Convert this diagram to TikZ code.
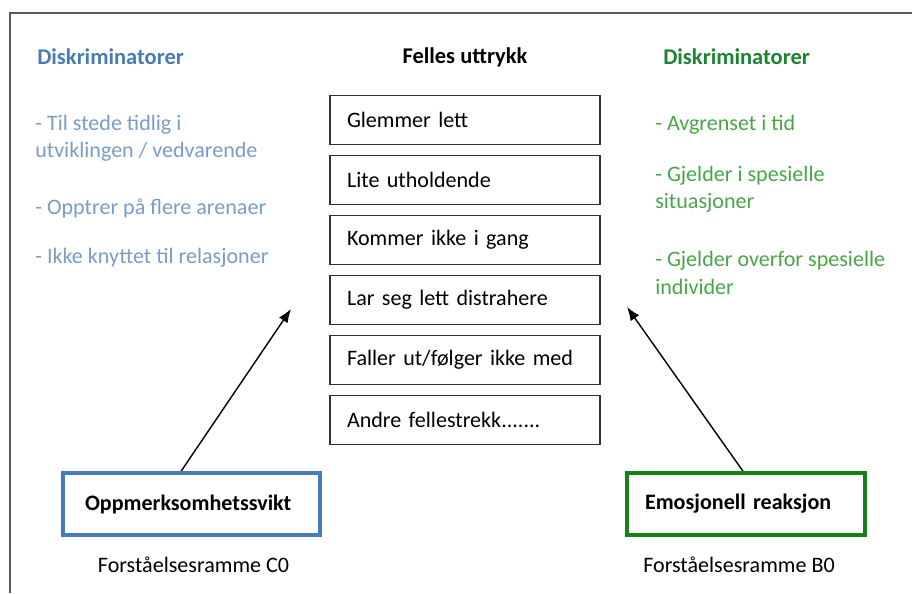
\documentclass[tikz,border=0pt]{standalone}
\usepackage{fontspec}
\setmainfont{Carlito}
\usetikzlibrary{arrows.meta}
\pgfdeclarelayer{edgelayer}
\pgfdeclarelayer{nodelayer}
\pgfsetlayers{edgelayer,nodelayer,main}
\definecolor{headblue}{RGB}{74,122,180}
\definecolor{itemblue}{RGB}{122,156,198}
\definecolor{headgreen}{RGB}{28,132,48}
\definecolor{itemgreen}{RGB}{72,165,72}
\definecolor{boxblue}{RGB}{72,122,190}
\definecolor{boxgreen}{RGB}{22,128,26}
\definecolor{boxgray}{RGB}{50,50,50}
\definecolor{framegray}{RGB}{90,90,90}
\tikzset{font=\fontsize{15.7}{19.5}\selectfont}
\tikzstyle{none}=[inner sep=0pt]
\tikzstyle{head}=[inner sep=0pt, font=\fontsize{16}{18}\selectfont\bfseries]
\tikzstyle{bluetext}=[inner sep=0pt, anchor=west, align=left, text=itemblue]
\tikzstyle{greentext}=[inner sep=0pt, anchor=west, align=left, text=itemgreen]
\tikzstyle{entry}=[draw=boxgray, line width=1.2pt, minimum height=1.225cm, text width=5.9cm, inner xsep=0.425cm, align=left]
\tikzstyle{cause}=[line width=2.2pt, minimum height=1.55cm, align=left, font=\fontsize{15.7}{18}\selectfont\bfseries]
\tikzstyle{pointer}=[-{Latex[length=3.4mm,width=2.6mm]}, line width=1pt]

\begin{document}
\begin{tikzpicture}
	\useasboundingbox (0, 0) rectangle (22.8, 14.825);
	\draw[framegray, line width=1.2pt] (22.8, 14.5) -- (0.25, 14.5) -- (0.25, 0);
	\begin{pgfonlayer}{nodelayer}
		% headings
		\node [style=head, anchor=west, text=headblue] (h0) at (0.925, 13.4) {Diskriminatorer};
		\node [style=head] (h1) at (11.625, 13.4) {Felles uttrykk};
		\node [style=head, anchor=west, text=headgreen] (h2) at (16.575, 13.4) {Diskriminatorer};
		% left column
		\node [style=bluetext] (l0) at (0.875, 11.3625) {- Til stede tidlig i\\utviklingen / vedvarende};
		\node [style=bluetext] (l1) at (0.875, 9.625) {- Opptrer på flere arenaer};
		\node [style=bluetext] (l2) at (0.875, 8.375) {- Ikke knyttet til relasjoner};
		% right column
		\node [style=greentext] (r0) at (16.375, 11.7) {- Avgrenset i tid};
		\node [style=greentext] (r1) at (16.375, 10.1) {- Gjelder i spesielle\\situasjoner};
		\node [style=greentext] (r2) at (16.375, 8.0) {- Gjelder overfor spesielle\\individer};
		% common expressions
		\node [style=entry] (0) at (11.625, 11.825) {Glemmer lett};
		\node [style=entry] (1) at (11.625, 10.325) {Lite utholdende};
		\node [style=entry] (2) at (11.625, 8.825) {Kommer ikke i gang};
		\node [style=entry] (3) at (11.625, 7.325) {Lar seg lett distrahere};
		\node [style=entry] (4) at (11.625, 5.825) {Faller ut/følger ikke med};
		\node [style=entry] (5) at (11.625, 4.325) {Andre fellestrekk.......};
		% frames of understanding
		\node [style=cause, draw=boxblue, text width=5.325cm, inner xsep=0.55cm] (6) at (4.7875, 2.225) {Oppmerksomhetssvikt};
		\node [style=cause, draw=boxgreen, text width=5.05cm, inner xsep=0.45cm] (8) at (18.65, 2.225) {Emosjonell reaksjon};
		\node [style=none] (c0) at (4.8375, 0.7) {Forståelsesramme C0};
		\node [style=none] (c1) at (18.475, 0.7) {Forståelsesramme B0};
		\coordinate (7) at (7.275, 7.1);
		\coordinate (9) at (15.675, 7.15);
	\end{pgfonlayer}
	\begin{pgfonlayer}{edgelayer}
		\draw[style=pointer] (6.108.7) to (7);
		\draw[style=pointer] (8.95.5) to (9);
	\end{pgfonlayer}
\end{tikzpicture}
\end{document}
